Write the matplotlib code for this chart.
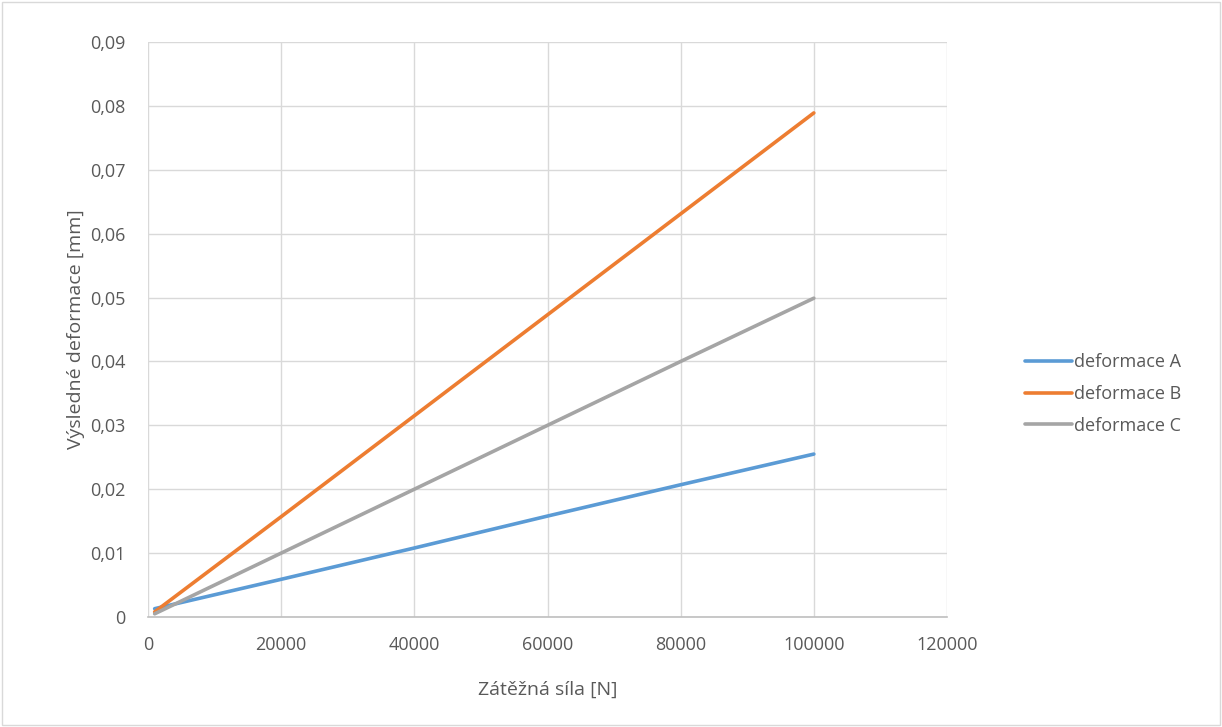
import matplotlib.pyplot as plt
from matplotlib.patches import Rectangle

# data
sila = [1000, 20000, 40000, 60000, 80000, 100000]
def_a = [0.0013, 0.0059, 0.0108, 0.0158, 0.0207, 0.0255]
def_b = [0.0008, 0.0157, 0.0315, 0.0473, 0.0631, 0.0789]
def_c = [0.0005, 0.0100, 0.0200, 0.0300, 0.0400, 0.0499]
nazvy = ['deformace A', 'deformace B', 'deformace C']
barvy = ['#5B9BD5', '#ED7D31', '#A5A5A5']

x_ticks = [0, 20000, 40000, 60000, 80000, 100000, 120000]
y_ticks = [0, 0.01, 0.02, 0.03, 0.04, 0.05, 0.06, 0.07, 0.08, 0.09]
y_labels = ['0', '0,01', '0,02', '0,03', '0,04', '0,05', '0,06', '0,07', '0,08', '0,09']

plt.rcParams['font.family'] = ['Open Sans', 'DejaVu Sans']
txt = '#595959'

W, H = 1222, 727
fig = plt.figure(figsize=(W / 100, H / 100), dpi=100)
fig.patches.append(Rectangle((2 / W, 2 / H), 1 - 4 / W, 1 - 4 / H, transform=fig.transFigure,
                             fill=False, edgecolor='#D9D9D9', linewidth=1))

ax = fig.add_axes([148 / W, 1 - 617 / H, (947 - 148) / W, (617 - 42) / H])
for y, lab, c in zip([def_a, def_b, def_c], nazvy, barvy):
    ax.plot(sila, y, color=c, linewidth=2.6, label=lab, solid_capstyle='round')

ax.set_xlim(0, 120000)
ax.set_ylim(0, 0.09)
ax.set_xticks(x_ticks)
ax.set_xticklabels([str(t) for t in x_ticks])
ax.set_yticks(y_ticks)
ax.set_yticklabels(y_labels)
ax.grid(True, color='#D9D9D9', linewidth=1)
ax.set_axisbelow(True)
for s in ['top', 'right', 'left']:
    ax.spines[s].set_visible(False)
ax.spines['bottom'].set_color('#BFBFBF')
ax.spines['bottom'].set_linewidth(1.2)
ax.tick_params(length=0, labelsize=13, colors=txt)
ax.tick_params(axis='x', pad=14)
ax.tick_params(axis='y', pad=16)
ax.set_xlabel('Zátěžná síla [N]', fontsize=14, color=txt, labelpad=19)
ax.set_ylabel('Výsledné deformace [mm]', fontsize=14, color=txt, labelpad=4)

ax.legend(loc='center left', bbox_to_anchor=(1009 / W, 1 - 394 / H), bbox_transform=fig.transFigure,
          frameon=False, fontsize=13, labelcolor=txt, handlelength=2.6, handletextpad=0.1,
          labelspacing=0.75)

fig.savefig('out.png', dpi=100)
